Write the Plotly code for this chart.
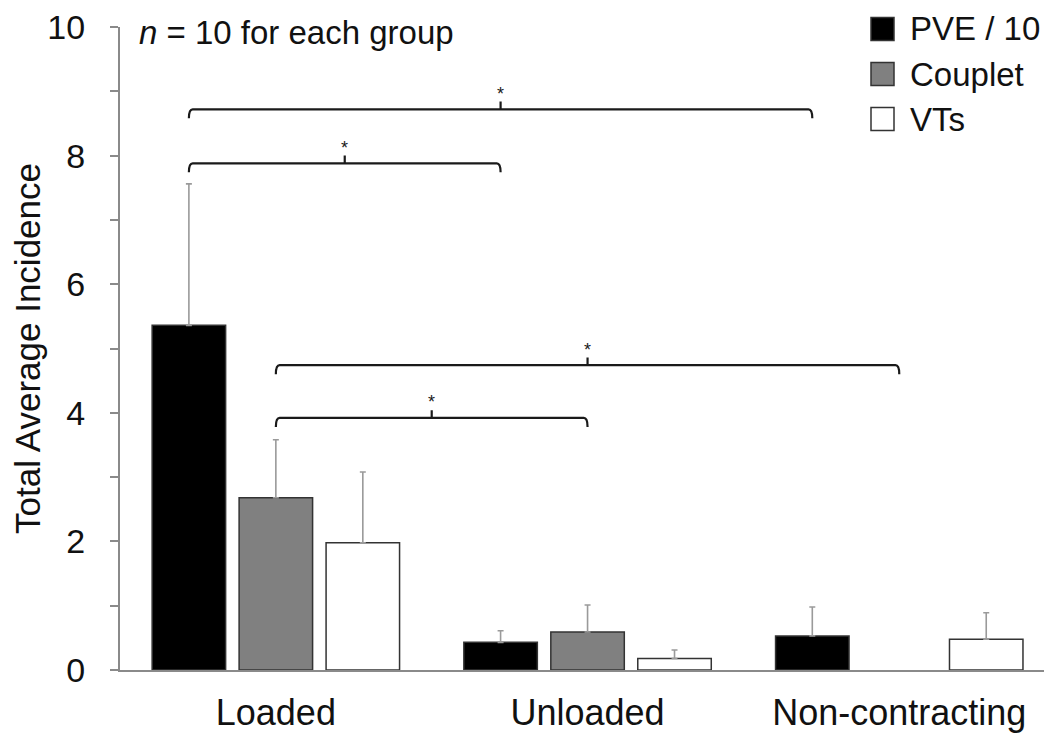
import plotly.graph_objects as go

categories = ["Loaded", "Unloaded", "Non-contracting"]
series_names = ["PVE / 10", "Couplet", "VTs"]
pve_vals = [5.36, 0.43, 0.53]
pve_err = [2.2, 0.18, 0.45]
couplet_vals = [2.68, 0.59, None]
couplet_err = [0.9, 0.42, None]
vt_vals = [1.98, 0.18, 0.48]
vt_err = [1.1, 0.13, 0.41]
ytick_vals = [0, 1, 2, 3, 4, 5, 6, 7, 8, 9, 10]
ytick_text = ["0", "", "2", "", "4", "", "6", "", "8", "", "10"]
# significance brackets: (series index a, category a, series index b, category b, height)
brackets = [(0, 0, 0, 2, 8.72), (0, 0, 0, 1, 7.88), (1, 0, 1, 2, 4.74), (1, 0, 1, 1, 3.92)]
note = "<i>n</i> = 10 for each group"

FONT = "Arial, 'Liberation Sans', sans-serif"
fills = ["#000000", "#808080", "#ffffff"]
BARGAP = 0.163
GROUPGAP = 0.155

# page has an 8px body margin; figure coordinates are offset accordingly
OFF = 8
W, H = 1052 - OFF, 734 - OFF
L, T, B = 120 - OFF, 27 - OFF, 64
PW, PH = W - L, H - T - B

xpos = list(range(len(categories)))
fig = go.Figure()
for name, vals, errs, fc in zip(series_names, [pve_vals, couplet_vals, vt_vals],
                                [pve_err, couplet_err, vt_err], fills):
    fig.add_trace(go.Bar(
        x=xpos, y=vals, name=name, showlegend=False,
        marker=dict(color=fc, line=dict(color="#333333", width=1.5)),
        error_y=dict(type="data", array=errs, arrayminus=[0 if e is not None else None for e in errs],
                     symmetric=False, color="#9a9a9a", thickness=1.6, width=3),
    ))

slot = (1 - BARGAP) / 3
def bx(series, cat):
    return cat + (series - 1) * slot

shapes = []
annotations = []
for sa, ca, sb, cb, yb in brackets:
    x1 = bx(sa, ca)
    x2 = bx(sb, cb)
    xm = (x1 + x2) / 2
    h = 0.14
    t = 0.12
    dx = 0.012
    path = (f"M {x1},{yb - h} Q {x1},{yb} {x1 + dx},{yb} L {x2 - dx},{yb} "
            f"Q {x2},{yb} {x2},{yb - h} M {xm},{yb} L {xm},{yb + t}")
    shapes.append(dict(type="path", path=path, xref="x", yref="y",
                       line=dict(color="#1a1a1a", width=2.2)))
    annotations.append(dict(x=xm, y=yb + t, xref="x", yref="y", text="*", showarrow=False,
                            yanchor="bottom", yshift=-4, font=dict(size=18, color="#1a1a1a", family=FONT)))

def px_x(page_x):
    return (page_x - OFF - L) / PW

def px_y(page_y):
    return (H - B - (page_y - OFF)) / PH

# manual legend
leg_x0, leg_y0, leg_dy = 871, 29, 45
for i, (name, fc) in enumerate(zip(series_names, fills)):
    cy = leg_y0 + i * leg_dy
    shapes.append(dict(type="rect", xref="paper", yref="paper",
                       x0=px_x(leg_x0), x1=px_x(leg_x0 + 23),
                       y0=px_y(cy + 11.5), y1=px_y(cy - 11.5),
                       fillcolor=fc, line=dict(color="#333333", width=1.5)))
    annotations.append(dict(x=px_x(908), y=px_y(cy), xref="paper", yref="paper",
                            text=name, showarrow=False, xanchor="left", yanchor="middle",
                            font=dict(size=33, color="#111111", family=FONT)))

annotations.append(dict(x=px_x(137), y=px_y(32), xref="paper", yref="paper",
                        text=note, showarrow=False, xanchor="left", yanchor="middle",
                        font=dict(size=33, color="#111111", family=FONT)))

fig.update_layout(
    width=W, height=H,
    margin=dict(l=L, r=0, t=T, b=B),
    plot_bgcolor="white", paper_bgcolor="white",
    barmode="group", bargap=BARGAP, bargroupgap=GROUPGAP,
    font=dict(family=FONT, color="#111111"),
    shapes=shapes, annotations=annotations,
    xaxis=dict(range=[-0.5, 2.49], tickvals=xpos, ticktext=categories, showgrid=False,
               zeroline=False, showline=True, linecolor="#8a8a8a", linewidth=2, automargin=False,
               ticks="", tickfont=dict(size=36, color="#111111"), ticklabelstandoff=10),
    yaxis=dict(range=[0, 10], tickvals=ytick_vals, ticktext=ytick_text, showgrid=False,
               zeroline=False, showline=True, linecolor="#8a8a8a", linewidth=2, automargin=False,
               ticks="outside", ticklen=8, tickcolor="#8a8a8a", tickwidth=1.5,
               tickfont=dict(size=34, color="#111111"), ticklabelstandoff=18,
               ticklabeloverflow="allow",
               title=dict(text="Total Average Incidence", font=dict(size=35, color="#111111"),
                          standoff=16)),
)

fig.write_html("out.html")
